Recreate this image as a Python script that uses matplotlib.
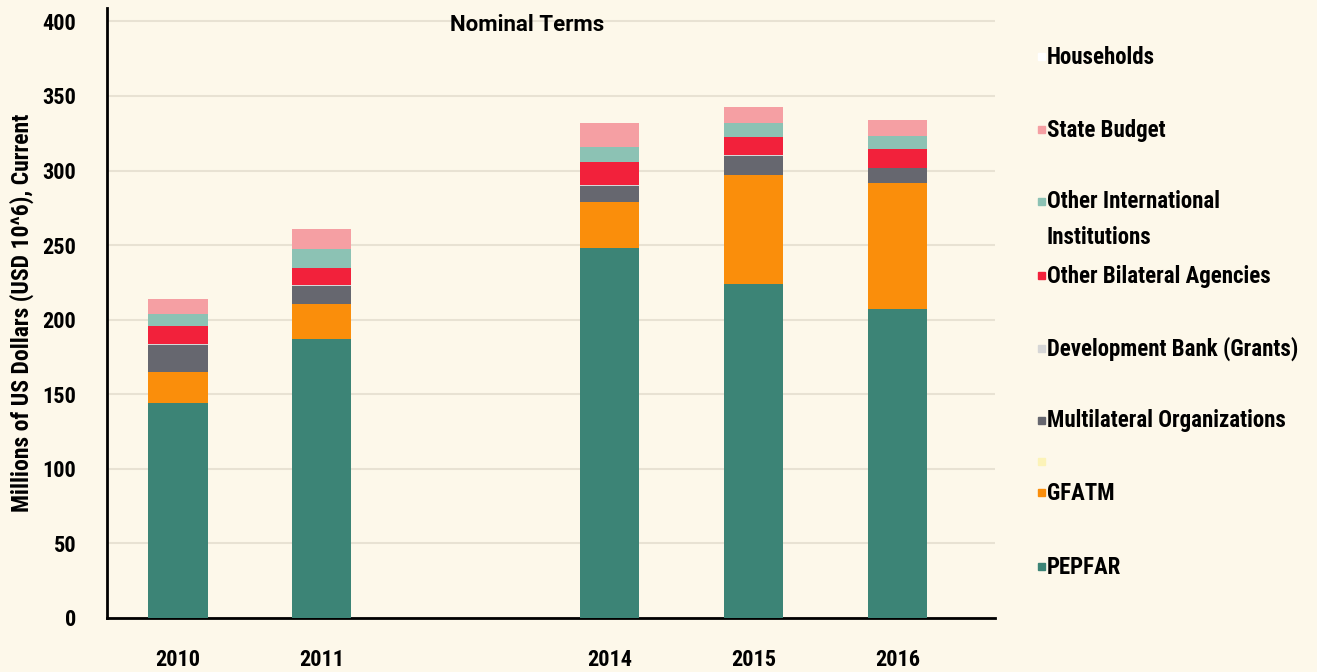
import numpy as np
import matplotlib
matplotlib.use('Agg')
import matplotlib.pyplot as plt
from matplotlib.patches import Rectangle

plt.rcParams['font.family'] = ['Roboto Condensed', 'Roboto', 'DejaVu Sans']

# data (millions USD, current)
years = ['2010', '2011', '2014', '2015', '2016']
slots = [0, 1, 3, 4, 5]  # 2012-2013 left as an empty slot
pepfar = [144, 187, 248, 224, 207]
blank = [0, 0, 0, 0, 0]
gfatm = [21, 23.5, 31, 73, 84.5]
multilateral = [18, 12, 10.5, 13, 10]
dev_bank = [0.5, 0.5, 0.5, 0.5, 0.5]
bilateral = [12.5, 11.5, 15.5, 12, 12.5]
other_intl = [8, 13, 10.5, 9.5, 9]
state_budget = [10, 13, 16, 10.5, 10.5]
households = [0, 0, 0, 0, 0]

# bottom to top
series = [
    ('PEPFAR', pepfar, '#3c8476'),
    ('', blank, '#fcf3b8'),
    ('GFATM', gfatm, '#fa8e0b'),
    ('Multilateral Organizations', multilateral, '#66676f'),
    ('Development Bank (Grants)', dev_bank, '#d6d6d6'),
    ('Other Bilateral Agencies', bilateral, '#f2213b'),
    ('Other International\nInstitutions', other_intl, '#8cc2b4'),
    ('State Budget', state_budget, '#f59fa3'),
    ('Households', households, '#ffffff'),
]
# legend marker rows, pixels from the top
legend_y = [567, 462, 493, 421, 349, 276, 202, 130, 57]

bg = '#fdf8ea'
fig = plt.figure(figsize=(13.17, 6.72), dpi=100, facecolor=bg)
ax = fig.add_axes([107 / 1317, 1 - 618 / 672, (995 - 107) / 1317, (618 - 8) / 672])
ax.set_facecolor(bg)

bottom = np.zeros(len(years))
for name, vals, col in series:
    ax.bar(slots, vals, width=0.41, bottom=bottom, color=col, linewidth=0, zorder=3)
    bottom += np.array(vals)

ax.set_xlim(-0.493, 5.674)
ax.set_ylim(0, 409)
ax.set_yticks(np.arange(0, 401, 50))
ax.set_xticks(slots)
ax.set_xticklabels(years)
ax.yaxis.grid(True, color='#e8e2d3', linewidth=1.5, zorder=0)
ax.tick_params(axis='both', length=0, labelsize=16)
ax.tick_params(axis='x', pad=22)
ax.tick_params(axis='y', pad=22)
for lab in ax.get_xticklabels() + ax.get_yticklabels():
    lab.set_fontweight('bold')
for s in ['top', 'right']:
    ax.spines[s].set_visible(False)
for s in ['left', 'bottom']:
    ax.spines[s].set_linewidth(2)
    ax.spines[s].set_color('black')

ax.set_ylabel('Millions of US Dollars (USD 10^6), Current', fontsize=17, fontweight='bold', labelpad=6)
ax.text(0.473, 0.972, 'Nominal Terms', transform=ax.transAxes, ha='center', va='center',
        fontsize=16, fontweight='bold', family=['Roboto', 'DejaVu Sans'])

# legend drawn by hand, in the order shown on the right
for (name, vals, col), yp in zip(series, legend_y):
    fy = 1 - yp / 672
    fig.patches.append(Rectangle((1038 / 1317, fy - 0.004), 7 / 1317, 7 / 672, color=col,
                                 transform=fig.transFigure, figure=fig))
    for i, line in enumerate(name.split('\n')):
        if line:
            fig.text(1047 / 1317, fy - i * 35 / 672, line, ha='left', va='center',
                     fontsize=16.5, fontweight='bold')

fig.savefig('out.png', dpi=100, facecolor=bg)
